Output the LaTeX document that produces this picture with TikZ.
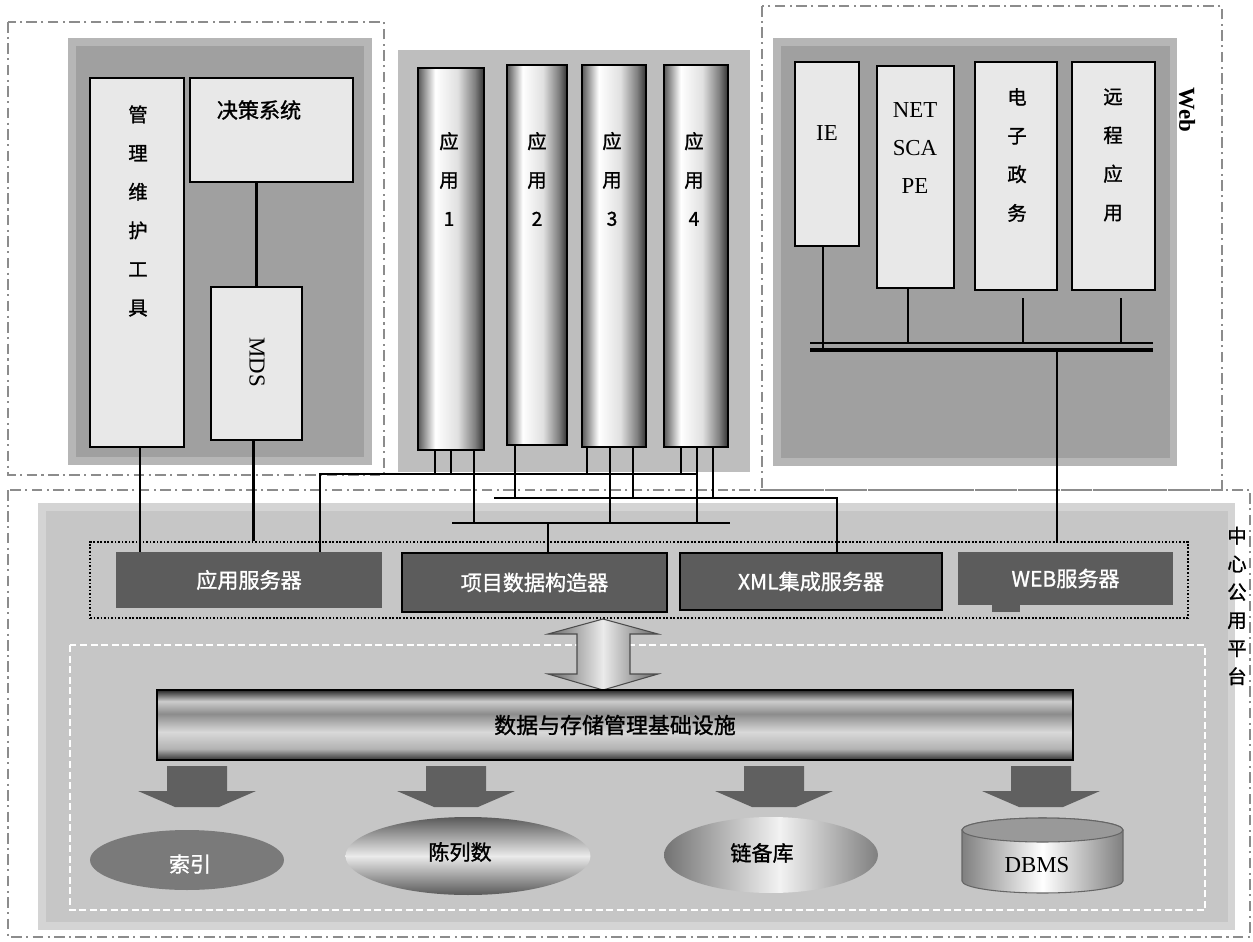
\documentclass[tikz,border=0pt]{standalone}
\usepackage{fontspec}
\setmainfont{Liberation Serif}
\newfontfamily\cjk{Noto Sans CJK SC}[FakeBold=1.2]
\usetikzlibrary{calc,shapes.geometric}

\definecolor{panelA}{HTML}{A0A0A0}
\definecolor{panelAb}{HTML}{B6B6B6}
\definecolor{panelM}{HTML}{BEBEBE}
\definecolor{panelB}{HTML}{C6C6C6}
\definecolor{panelBb}{HTML}{D4D4D4}
\definecolor{boxfill}{HTML}{E8E8E8}
\definecolor{srv}{HTML}{5C5C5C}
\definecolor{arr}{HTML}{606060}
\definecolor{framec}{HTML}{8C8C8C}
\definecolor{idx}{HTML}{7A7A7A}

\pgfdeclarehorizontalshading{cylH}{100bp}{color(0bp)=(black!65); color(25bp)=(black!65); color(38bp)=(white); color(55bp)=(black!12); color(68bp)=(black!50); color(75bp)=(black!80); color(100bp)=(black!80)}
\pgfdeclareverticalshading{pipeV}{100bp}{color(0bp)=(black!80); color(25bp)=(black!80); color(33bp)=(black!30); color(45bp)=(black!15); color(58bp)=(black!45); color(67bp)=(black!20); color(75bp)=(black!85); color(100bp)=(black!85)}
\pgfdeclareverticalshading{ellV}{100bp}{color(0bp)=(black!65); color(25bp)=(black!65); color(50bp)=(black!8); color(75bp)=(black!65); color(100bp)=(black!65)}
\pgfdeclarehorizontalshading{ellH}{100bp}{color(0bp)=(black!55); color(25bp)=(black!55); color(52bp)=(black!5); color(75bp)=(black!50); color(100bp)=(black!50)}
\pgfdeclarehorizontalshading{dbH}{100bp}{color(0bp)=(black!50); color(25bp)=(black!50); color(50bp)=(white); color(75bp)=(black!50); color(100bp)=(black!50)}
\pgfdeclarehorizontalshading{darrH}{100bp}{color(0bp)=(black!60); color(25bp)=(black!60); color(50bp)=(black!8); color(75bp)=(black!60); color(100bp)=(black!60)}

\newcommand\cyldrop[3]{\draw[conn] ($(#1.south)+(#2,0)$) coordinate (dd) -- (dd |- #3);}
\newcommand\blockarrow[1]{\fill[arr] (#1-30,766) -- (#1+30,766) -- (#1+30,791) -- (#1+59,791) -- (#1+22,807) -- (#1-22,807) -- (#1-59,791) -- (#1-30,791) -- cycle;}

\begin{document}
\begin{tikzpicture}[x=0.02cm,y=-0.02cm,
  lightbox/.style={draw=black,line width=1.4pt,fill=boxfill,inner sep=0},
  cylbox/.style={draw=black,line width=1.4pt,shade,shading=cylH,inner sep=0},
  srvbox/.style={fill=srv,text=white,inner sep=0,font=\cjk\fontsize{12}{14}\selectfont},
  conn/.style={line width=1.4pt},
  framebox/.style={draw=framec,line width=0.9pt,dash pattern=on 6pt off 2.5pt on 1.2pt off 2.5pt},
  coltext/.style={align=center,inner sep=0,font=\cjk\fontsize{11}{22}\selectfont},
  lattext/.style={align=center,inner sep=0,font=\fontsize{13}{21.5}\selectfont},
  ellnode/.style={ellipse,inner sep=0}]

\fill[white] (0,0) rectangle (1253,942);
\useasboundingbox (0,0) rectangle (1253,942);

% outer frames
\draw[framebox] (8,22) rectangle (384,475);
\draw[framebox] (762,6) rectangle (1222,490);
\draw[framebox] (8,490) rectangle (1250,937);

% panels
\draw[fill=panelA,draw=panelAb,line width=4pt] (72,42) rectangle (368,461);
\fill[panelM] (398,50) rectangle (750,472);
\draw[fill=panelA,draw=panelAb,line width=4pt] (777,42) rectangle (1173,462);
\draw[fill=panelB,draw=panelBb,line width=4pt] (42,507) rectangle (1231,926);
\draw[white,line width=1pt,dash pattern=on 4pt off 2pt] (70,645) rectangle (1205,910);

% left panel boxes
\node[lightbox,minimum width=1.88cm,minimum height=7.38cm] (gl) at (137,262.5) {};
\node[lightbox,minimum width=3.26cm,minimum height=2.08cm] (jc) at (271.5,130) {};
\node[lightbox,minimum width=1.82cm,minimum height=3.06cm] (mds) at (256.5,363.5) {};
\node[coltext] (glt) at (138,211) {管\\理\\维\\护\\工\\具};
\node[coltext,font=\cjk\fontsize{12}{14}\selectfont] (jct) at (259,110) {决策系统};
\node[lattext,rotate=-90] (mdst) at (257,362) {MDS};

% applications
\node[cylbox,minimum width=1.32cm,minimum height=7.64cm] (c1) at (451,259) {};
\node[cylbox,minimum width=1.2cm,minimum height=7.6cm] (c2) at (537,255) {};
\node[cylbox,minimum width=1.28cm,minimum height=7.64cm] (c3) at (614,256) {};
\node[cylbox,minimum width=1.28cm,minimum height=7.64cm] (c4) at (696,256) {};
\node[coltext] (c1t) at (449,179) {应\\用\\1};
\node[coltext] (c2t) at (537,179) {应\\用\\2};
\node[coltext] (c3t) at (612,179) {应\\用\\3};
\node[coltext] (c4t) at (694,179) {应\\用\\4};

% right panel boxes
\node[lightbox,minimum width=1.28cm,minimum height=3.68cm] (ie) at (827,154) {};
\node[lightbox,minimum width=1.54cm,minimum height=4.44cm] (ns) at (915.5,177) {};
\node[lightbox,minimum width=1.64cm,minimum height=4.56cm] (dz) at (1016,176) {};
\node[lightbox,minimum width=1.66cm,minimum height=4.56cm] (yc) at (1113.5,176) {};
\node[lattext] (iet) at (827,133) {IE};
\node[lattext] (nst) at (915,148) {NET\\SCA\\PE};
\node[coltext] (dzt) at (1017,155) {电\\子\\政\\务};
\node[coltext] (yct) at (1113,155) {远\\程\\应\\用};
\node[lattext,font=\bfseries\fontsize{13}{15}\selectfont,rotate=-90] (webt) at (1187,110) {Web};

% right bus
\coordinate (rb1L) at (810,343); \coordinate (rb1R) at (1153,343);
\coordinate (rb2L) at (810,350); \coordinate (rb2R) at (1153,350);
\draw[line width=1pt] (rb1L) -- (rb1R);
\draw[line width=2.4pt] (rb2L) -- (rb2R);
\draw[conn] ($(ie.south)+(-4,0)$) coordinate (d1) -- (d1 |- rb2L);
\draw[conn] ($(ns.south)+(-7.5,0)$) coordinate (d2) -- (d2 |- rb1L);
\draw[conn] ($(dz.south)+(7,7)$) coordinate (d3) -- (d3 |- rb1L);
\draw[conn] ($(yc.south)+(7.5,7)$) coordinate (d4) -- (d4 |- rb1L);

% server group
\node[draw=black,line width=1.2pt,dash pattern=on 1pt off 1pt,minimum width=21.96cm,minimum height=1.52cm,inner sep=0] (grp) at (639,580) {};
\node[srvbox,minimum width=5.32cm,minimum height=1.12cm] (asv) at (249,580) {应用服务器};
\node[srvbox,draw=black,line width=1.4pt,minimum width=5.3cm,minimum height=1.18cm] (pj) at (534.5,582.5) {项目数据构造器};
\node[srvbox,draw=black,line width=1.4pt,minimum width=5.24cm,minimum height=1.14cm] (xml) at (811,581.5) {XML集成服务器};
\node[srvbox,minimum width=4.3cm,minimum height=1.06cm] (web) at (1065.5,578.5) {WEB服务器};
\fill[srv] (992,604) rectangle (1020,612);

% left connectors
\draw[conn] (mds.north) -- (mds.north |- jc.south);
\draw[conn] ($(gl.south)+(3,0)$) coordinate (g1) -- (g1 |- asv.north);
\draw[conn] ($(mds.south)+(-3,0)$) coordinate (g2) -- (g2 |- grp.north);

% application buses
\coordinate (bA1) at (320,474); \coordinate (bA2) at (697,474);
\coordinate (bB1) at (494,498); \coordinate (bB2) at (837,498);
\coordinate (bC1) at (452,523); \coordinate (bC2) at (730,523);
\coordinate (bC3) at (548,523);
\coordinate (wb) at (1057,350);
\draw[conn] (bA2) -- (bA1) -- (bA1 |- asv.north);
\draw[conn] (bB1) -- (bB2) -- (bB2 |- xml.north);
\draw[conn] (bC1) -- (bC2);
\draw[conn] (bC3) -- (bC3 |- pj.north);
\draw[conn] (wb) -- (wb |- grp.north);
\cyldrop{c1}{-16}{bA1}
\cyldrop{c1}{0}{bA1}
\cyldrop{c1}{23}{bC1}
\cyldrop{c2}{-22}{bB1}
\cyldrop{c3}{-27}{bA1}
\cyldrop{c3}{-4}{bC1}
\cyldrop{c3}{19}{bB1}
\cyldrop{c4}{-15}{bA1}
\cyldrop{c4}{1}{bC1}
\cyldrop{c4}{17}{bB1}

% double arrow
\shade[shading=darrH] (603,619) -- (658,634) -- (630,634) -- (630,674) -- (658,674) -- (603,690) -- (548,674) -- (577,674) -- (577,634) -- (548,634) -- cycle;
\draw[line width=0.6pt,black!70] (603,619) -- (658,634) -- (630,634) -- (630,674) -- (658,674) -- (603,690) -- (548,674) -- (577,674) -- (577,634) -- (548,634) -- cycle;

% pipeline
\node[draw=black,line width=1.4pt,shade,shading=pipeV,minimum width=18.32cm,minimum height=1.4cm,inner sep=0,font=\cjk\fontsize{12.5}{14}\selectfont] (pipe) at (615,725) {数据与存储管理基础设施};

% block arrows
\blockarrow{197}
\blockarrow{456}
\blockarrow{774}
\blockarrow{1041}

% storage
\node[ellnode,fill=idx,minimum width=3.88cm,minimum height=1.2cm] (sy) at (187,860) {};
\node[coltext,text=white,font=\cjk\fontsize{12}{14}\selectfont] (syt) at (190,864) {索引};
\node[ellnode,shade,shading=ellV,minimum width=4.9cm,minimum height=1.56cm] (sl) at (468,856) {};
\node[coltext,font=\cjk\fontsize{12}{14}\selectfont] (slt) at (460,852) {陈列数};
\node[ellnode,shade,shading=ellH,minimum width=4.28cm,minimum height=1.52cm] (lb) at (771,855) {};
\node[coltext,font=\cjk\fontsize{12}{14}\selectfont] (lbt) at (762,853) {链备库};
\shade[shading=dbH,draw=black!60,line width=0.6pt] (962,830) -- (962,881) arc[start angle=180,end angle=360,x radius=1.61cm,y radius=0.24cm] -- (1123,830) arc[start angle=0,end angle=180,x radius=1.61cm,y radius=0.24cm] -- cycle;
\draw[fill=black!40,draw=black!60,line width=0.6pt] (1042.5,830) ellipse [x radius=1.61cm,y radius=0.24cm];
\node[lattext] (dbms) at (1037,865) {DBMS};

% platform label
\node[coltext,font=\cjk\fontsize{11}{16}\selectfont] (plat) at (1237,606) {中\\心\\公\\用\\平\\台};
\end{tikzpicture}
\end{document}
